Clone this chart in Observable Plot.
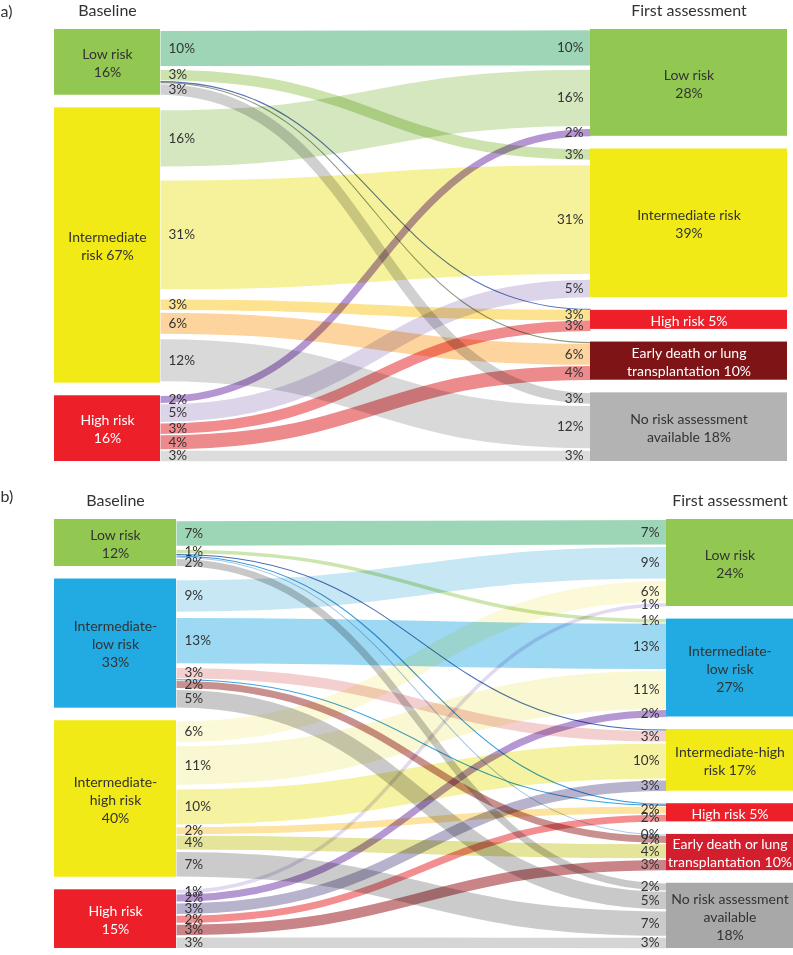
<!DOCTYPE html>
<html>
<head>
<meta charset="utf-8">
<script src="https://cdn.jsdelivr.net/npm/d3@7"></script>
<script src="https://cdn.jsdelivr.net/npm/@observablehq/plot@0.6"></script>
<style>
  html, body { margin: 0; padding: 0; background: #fff; }
  #chart svg { display: block; }
</style>
</head>
<body>
<div id="chart"></div>
<script>
// ---------- Panel a data ----------
const aLeftNodes = ["Low risk\n16%", "Intermediate\nrisk 67%", "High risk\n16%"];
const aLeftValues = [16, 67, 16];
const aRightNodes = ["Low risk\n28%", "Intermediate risk\n39%", "High risk 5%", "Early death or lung\ntransplantation 10%", "No risk assessment\navailable 18%"];
const aRightValues = [28, 39, 5, 10, 18];
const aFlowSource = [0, 0, 0, 0, 0, 1, 1, 1, 1, 1, 2, 2, 2, 2, 2];
const aFlowTarget = [0, 1, 2, 3, 4, 0, 1, 2, 3, 4, 0, 1, 2, 3, 4];
const aFlowValues = [10, 3, 0.3, 0.3, 3, 16, 31, 3, 6, 12, 2, 5, 3, 4, 3];
const aFlowLeftLabels = ["10%", "3%", "", "", "3%", "16%", "31%", "3%", "6%", "12%", "2%", "5%", "3%", "4%", "3%"];
const aFlowRightLabels = ["10%", "3%", "", "", "3%", "16%", "31%", "3%", "6%", "12%", "2%", "5%", "3%", "4%", "3%"];

// ---------- Panel b data ----------
const bLeftNodes = ["Low risk\n12%", "Intermediate-\nlow risk\n33%", "Intermediate-\nhigh risk\n40%", "High risk\n15%"];
const bLeftValues = [12, 33, 40, 15];
const bRightNodes = ["Low risk\n24%", "Intermediate-\nlow risk\n27%", "Intermediate-high\nrisk 17%", "High risk 5%", "Early death or lung\ntransplantation 10%", "No risk assessment\navailable\n18%"];
const bRightValues = [24, 27, 17, 5, 10, 18];
const bFlowSource = [0, 0, 0, 0, 0, 0, 1, 1, 1, 1, 1, 1, 2, 2, 2, 2, 2, 2, 3, 3, 3, 3, 3, 3];
const bFlowTarget = [0, 1, 2, 3, 4, 5, 0, 1, 2, 3, 4, 5, 0, 1, 2, 3, 4, 5, 0, 1, 2, 3, 4, 5];
const bFlowValues = [7, 1, 0.3, 0.3, 0.3, 2, 9, 13, 3, 0.3, 2, 5, 6, 11, 10, 2, 4, 7, 1, 2, 3, 2, 3, 3];
const bFlowLeftLabels = ["7%", "1%", "", "", "", "2%", "9%", "13%", "3%", "", "2%", "5%", "6%", "11%", "10%", "2%", "4%", "7%", "1%", "2%", "3%", "2%", "3%", "3%"];
const bFlowRightLabels = ["7%", "1%", "", "", "0%", "2%", "9%", "13%", "3%", "", "2%", "5%", "6%", "11%", "10%", "2%", "4%", "7%", "1%", "2%", "3%", "2%", "3%", "3%"];

// ---------- Styles ----------
const GREEN = "#92c851", YELLOW = "#f2ea17", BLUE = "#22aae2", RED = "#ed1f29";
const aLeftFill = [GREEN, YELLOW, RED];
const aRightFill = [GREEN, YELLOW, RED, "#7e1416", "#b3b3b3"];
const aLeftInk = ["#333", "#333", "#fff"];
const aRightInk = ["#333", "#333", "#fff", "#fff", "#333"];
const aFlowColors = ["#9ed5b6", "#cde3ad", "#5b76b6", "#8f9c82", "#d0d0d0",
                     "#d4e7bf", "#f6f29b", "#fde38f", "#fed49e", "#d9d9d9",
                     "#b596d3", "#dcd5ea", "#f18c8e", "#ec8a8c", "#dcdcdc"];
const bLeftFill = [GREEN, BLUE, YELLOW, RED];
const bRightFill = [GREEN, BLUE, YELLOW, RED, "#d31f2d", "#a8a8a8"];
const bLeftInk = ["#333", "#333", "#333", "#fff"];
const bRightInk = ["#333", "#333", "#333", "#fff", "#fff", "#333"];
const bFlowColors = ["#9dd6b6", "#cde6ad", "#4a6cb3", "#3b9bd8", "#a9c8e8", "#c8c8c8",
                     "#c6e7f3", "#9ed9f4", "#f4cfcf", "#3ea2dd", "#c99090", "#c9c9c9",
                     "#fbf9d8", "#faf8d2", "#f5f2a2", "#fde3a0", "#e4e49a", "#cbcbcb",
                     "#e1daf0", "#b597d2", "#b7b3cd", "#f28e90", "#c98487", "#d5d5d5"];

const FONT = "Lato, 'Noto Sans', sans-serif";
const INK = "#333";

function panel(cfg) {
  const T = 123, G = 3.6;
  const column = (values) => {
    const k = (T - (values.length - 1) * G) / d3.sum(values);
    let y = 0;
    return values.map((v, i) => { const n = {i, y0: y, y1: y + v * k}; y = n.y1 + G; return n; });
  };
  const L = column(cfg.leftValues), R = column(cfg.rightValues);
  const links = cfg.source.map((s, i) => ({
    s, t: cfg.target[i], v: cfg.values[i], color: cfg.colors[i],
    lt: cfg.leftLabels[i], rt: cfg.rightLabels[i]
  }));
  // stack flows within each node; spare room is shared out between neighbouring flows
  const stack = (nodes, key, other, out) => nodes.forEach(n => {
    const fl = links.filter(l => l[key] === n.i).sort((a, b) => a[other] - b[other]);
    const extra = (n.y1 - n.y0) - d3.sum(fl, l => l.v);
    if (extra <= 0) {
      let y = n.y0 + extra / 2;
      for (const l of fl) { l[out] = y + l.v / 2; y += l.v; }
      return;
    }
    const w = [fl[0].v / 4];
    for (let j = 1; j < fl.length; j++) w.push((fl[j - 1].v + fl[j].v) / 2);
    w.push(fl[fl.length - 1].v / 4);
    const ws = d3.sum(w);
    let y = n.y0 + extra * w[0] / ws;
    fl.forEach((l, j) => { l[out] = y + l.v / 2; y += l.v + extra * w[j + 1] / ws; });
  });
  stack(L, "s", "t", "ys");
  stack(R, "t", "s", "yt");
  const unit = (cfg.bottom - cfg.top) / T;
  const [lx0, lx1] = cfg.leftX, [rx0, rx1] = cfg.rightX;
  return Plot.plot({
    width: 793,
    height: cfg.height,
    margin: 0,
    x: {domain: [0, 793], range: [0, 793], axis: null},
    y: {domain: [0, T], range: [cfg.top, cfg.bottom], axis: null},
    color: {type: "identity"},
    style: {fontFamily: FONT, background: "#fff", color: INK},
    marks: [
      Plot.link(links, {
        x1: () => lx1, y1: "ys", x2: () => rx0, y2: "yt",
        curve: "bump-x", stroke: "color",
        strokeWidth: d => Math.max(d.v * unit, 1),
        mixBlendMode: "multiply"
      }),
      Plot.rect(L, {x1: () => lx0, x2: () => lx1, y1: "y0", y2: "y1", fill: d => cfg.leftFill[d.i]}),
      Plot.rect(R, {x1: () => rx0, x2: () => rx1, y1: "y0", y2: "y1", fill: d => cfg.rightFill[d.i]}),
      Plot.text(L, {x: () => (lx0 + lx1) / 2, y: d => (d.y0 + d.y1) / 2, text: d => cfg.leftNodes[d.i],
        fill: d => cfg.leftInk[d.i], fontSize: 14, lineHeight: 1.28}),
      Plot.text(R, {x: () => (rx0 + rx1) / 2, y: d => (d.y0 + d.y1) / 2, text: d => cfg.rightNodes[d.i],
        fill: d => cfg.rightInk[d.i], fontSize: 14, lineHeight: 1.28}),
      Plot.text(links.filter(d => d.lt), {x: () => lx1 + 8, y: "ys", text: "lt", textAnchor: "start",
        fontSize: 13.5, fill: INK}),
      Plot.text(links.filter(d => d.rt), {x: () => rx0 - 7, y: "yt", text: "rt", textAnchor: "end",
        fontSize: 13.5, fill: INK}),
      Plot.text(["Baseline"], {x: () => (lx0 + lx1) / 2, frameAnchor: "top", dy: cfg.titleBase,
        lineAnchor: "bottom", fontSize: 16, fill: INK}),
      Plot.text(["First assessment"], {x: () => (rx0 + rx1) / 2, frameAnchor: "top", dy: cfg.titleBase,
        lineAnchor: "bottom", fontSize: 16, fill: INK}),
      Plot.text([cfg.tag], {frameAnchor: "top-left", dy: cfg.tagBase, lineAnchor: "bottom",
        textAnchor: "start", fontSize: 16, fill: INK})
    ]
  });
}

const chart = document.getElementById("chart");
chart.append(panel({
  tag: "a)", height: 470, top: 29, bottom: 461, leftX: [54, 160], rightX: [590, 787],
  titleBase: 15, tagBase: 16,
  leftNodes: aLeftNodes, leftValues: aLeftValues, rightNodes: aRightNodes, rightValues: aRightValues,
  source: aFlowSource, target: aFlowTarget, values: aFlowValues,
  leftLabels: aFlowLeftLabels, rightLabels: aFlowRightLabels, colors: aFlowColors,
  leftFill: aLeftFill, rightFill: aRightFill, leftInk: aLeftInk, rightInk: aRightInk
}));
chart.append(panel({
  tag: "b)", height: 485, top: 49, bottom: 478, leftX: [54, 176], rightX: [666, 793],
  titleBase: 35, tagBase: 31,
  leftNodes: bLeftNodes, leftValues: bLeftValues, rightNodes: bRightNodes, rightValues: bRightValues,
  source: bFlowSource, target: bFlowTarget, values: bFlowValues,
  leftLabels: bFlowLeftLabels, rightLabels: bFlowRightLabels, colors: bFlowColors,
  leftFill: bLeftFill, rightFill: bRightFill, leftInk: bLeftInk, rightInk: bRightInk
}));
</script>
</body>
</html>
